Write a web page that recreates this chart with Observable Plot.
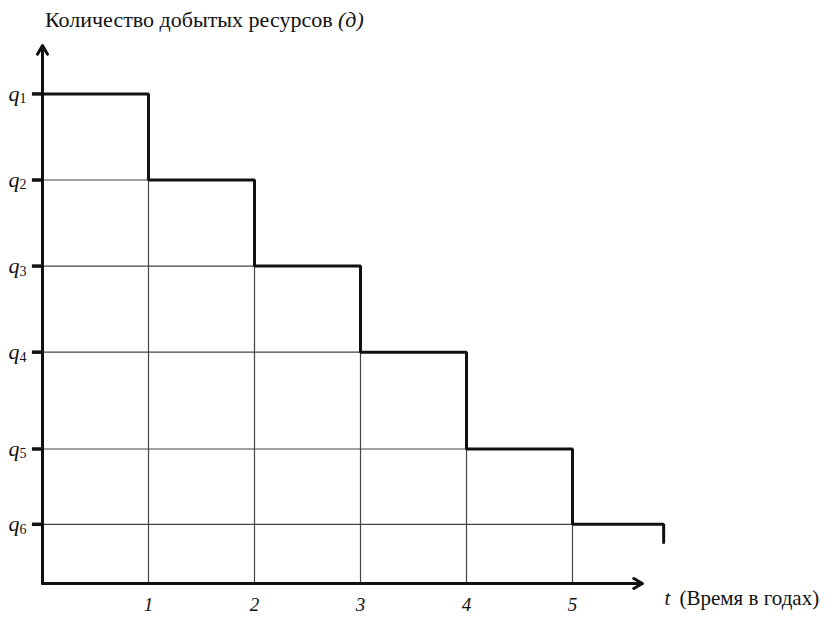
<!DOCTYPE html>
<html><head><meta charset="utf-8">
<script src="https://cdn.jsdelivr.net/npm/d3@7"></script>
<script src="https://cdn.jsdelivr.net/npm/@observablehq/plot@0.6"></script>
</head><body style="margin:0;background:#fff;">
<div id="title" style="height:27px;padding-top:9px;padding-left:45px;font-family:'Liberation Serif',serif;font-size:22px;line-height:22px;color:#111;white-space:nowrap;">Количество добытых ресурсов <i>(д)</i></div>
<div id="chart"></div>
<script>
// Data
const years = [1, 2, 3, 4, 5];                 // x tick labels (years)
const levelIds = ["1", "2", "3", "4", "5", "6"]; // q subscripts
const levels = [91, 75, 59, 43, 25, 11];       // q1..q6 (relative quantity)
const lastEnd = 5.86;   // where the last step ends
const lastDrop = 7.6;   // short drop at the end of the last step
const xAxisEnd = 5.66;  // end of x-axis arrow
const yAxisEnd = 100;   // end of y-axis arrow
const tickStart = -0.1; // left end of the y-axis tick marks

const stepPts = levels.map((q, i) => ({t: i, q}));
stepPts.push({t: lastEnd, q: levels[levels.length - 1]});
stepPts.push({t: lastEnd, q: lastDrop});

const hGrid = levels.map((q, i) => ({q, i})).filter(d => d.i > 0);
const vGrid = years.map(t => ({t, q: levels[t]}));

const F = "Liberation Serif";

const chart = Plot.plot({
  width: 840,
  height: 581,
  marginLeft: 42,
  marginRight: 162,
  marginTop: 9,
  marginBottom: 34,
  x: {domain: [0, 6], axis: null},
  y: {domain: [0, 100], axis: null},
  style: {fontFamily: F},
  marks: [
    Plot.ruleY(hGrid, {y: "q", x1: 0, x2: "i", stroke: "#444", strokeWidth: 1.2}),
    Plot.ruleX(vGrid, {x: "t", y1: 0, y2: "q", stroke: "#444", strokeWidth: 1.2}),
    Plot.line(stepPts, {x: "t", y: "q", curve: "step-after", stroke: "#111", strokeWidth: 3, strokeLinejoin: "miter"}),
    Plot.arrow([{x1: 0, y1: 0, x2: 0, y2: yAxisEnd}], {x1: "x1", y1: "y1", x2: "x2", y2: "y2", stroke: "#111", strokeWidth: 3, headLength: 5, headAngle: 60}),
    Plot.arrow([{x1: 0, y1: 0, x2: xAxisEnd, y2: 0}], {x1: "x1", y1: "y1", x2: "x2", y2: "y2", stroke: "#111", strokeWidth: 3, headLength: 5, headAngle: 60}),
    Plot.link(levels, {x1: () => tickStart, x2: () => 0, y1: d => d, y2: d => d, stroke: "#111", strokeWidth: 3.5}),
    Plot.text(levels, {x: 0, y: d => d, text: () => "q", dx: -34, textAnchor: "start", fontFamily: F, fontSize: 22, fontStyle: "italic", fill: "#111"}),
    Plot.text(levels, {x: 0, y: d => d, text: (d, i) => levelIds[i], dx: -23, dy: 5, textAnchor: "start", fontFamily: F, fontSize: 14, fill: "#111"}),
    Plot.text(years, {x: d => d, y: 0, text: d => String(d), dy: 21, fontFamily: F, fontSize: 19, fontStyle: "italic", fill: "#111"}),
    Plot.text(["t"], {frameAnchor: "bottom-right", text: d => d, dx: -14, dy: 21, fontFamily: F, fontSize: 21, fontStyle: "italic", textAnchor: "start", fill: "#111"}),
    Plot.text(["(Время в годах)"], {frameAnchor: "bottom-right", text: d => d, dx: 1, dy: 21, fontFamily: F, fontSize: 21, textAnchor: "start", fill: "#111"})
  ]
});
document.getElementById("chart").appendChild(chart);
</script>
</body></html>
